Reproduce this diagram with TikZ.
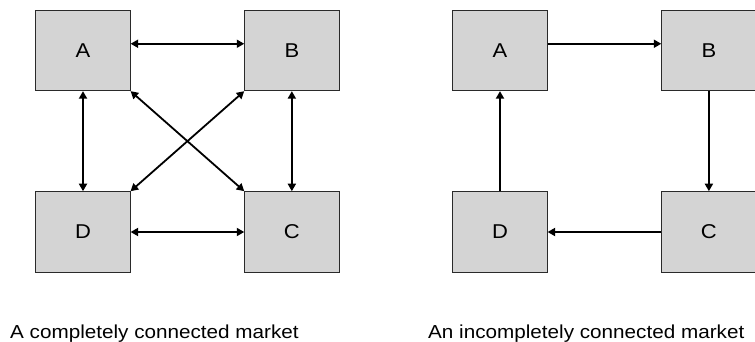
\documentclass[tikz,border=0pt]{standalone}
\usepackage{graphicx}
\usepackage{fontspec}
\setmainfont{Liberation Sans}
\usetikzlibrary{arrows.meta}
\definecolor{boxgray}{HTML}{D4D4D4}
\definecolor{boxline}{HTML}{2A2A2A}
\newcommand\widetext[1]{\scalebox{1.1}[1]{#1}}
\begin{document}
\begin{tikzpicture}[x=1pt,y=-1pt,
  box/.style={draw=boxline, fill=boxgray, line width=0.9pt, minimum width=94.3pt, minimum height=80.7pt, inner sep=0pt, font=\fontsize{20}{22}\selectfont},
  conn/.style={line width=1.9pt, -{Triangle[length=7.5pt,width=8pt]}},
  both/.style={line width=1.8pt, {Triangle[length=7.5pt,width=8pt]}-{Triangle[length=7.5pt,width=8pt]}},
  caption/.style={anchor=base west, inner sep=0pt, font=\fontsize{18.8}{20}\selectfont}]
\useasboundingbox (0,0) rectangle (755,341);
% left: completely connected
\node[box] (lA) at (83,50.35) {\widetext{A}};
\node[box] (lB) at (291.85,50.35) {\widetext{B}};
\node[box] (lD) at (83,232) {\widetext{D}};
\node[box] (lC) at (291.85,232) {\widetext{C}};
\draw[both] ([yshift=6.6pt]lA.east) -- ([yshift=6.6pt]lB.west);
\draw[both] (lD.east) -- (lC.west);
\draw[both] (lA.south) -- (lD.north);
\draw[both] (lB.south) -- (lC.north);
\draw[both] (lA.south east) -- (lC.north west);
\draw[both] (lD.north east) -- (lB.south west);
% right: incompletely connected
\node[box] (rA) at (500,50.35) {\widetext{A}};
\node[box] (rB) at (708.9,50.35) {\widetext{B}};
\node[box] (rD) at (500,232) {\widetext{D}};
\node[box] (rC) at (708.9,232) {\widetext{C}};
\draw[conn] ([yshift=6.6pt]rA.east) -- ([yshift=6.6pt]rB.west);
\draw[conn] (rB.south) -- (rC.north);
\draw[conn] (rC.west) -- (rD.east);
\draw[conn] (rD.north) -- (rA.south);
% captions
\node[caption] (capL) at (10,338) {\widetext{A completely connected market}};
\node[caption] (capR) at (428,338) {\widetext{An incompletely connected market}};
\end{tikzpicture}
\end{document}
